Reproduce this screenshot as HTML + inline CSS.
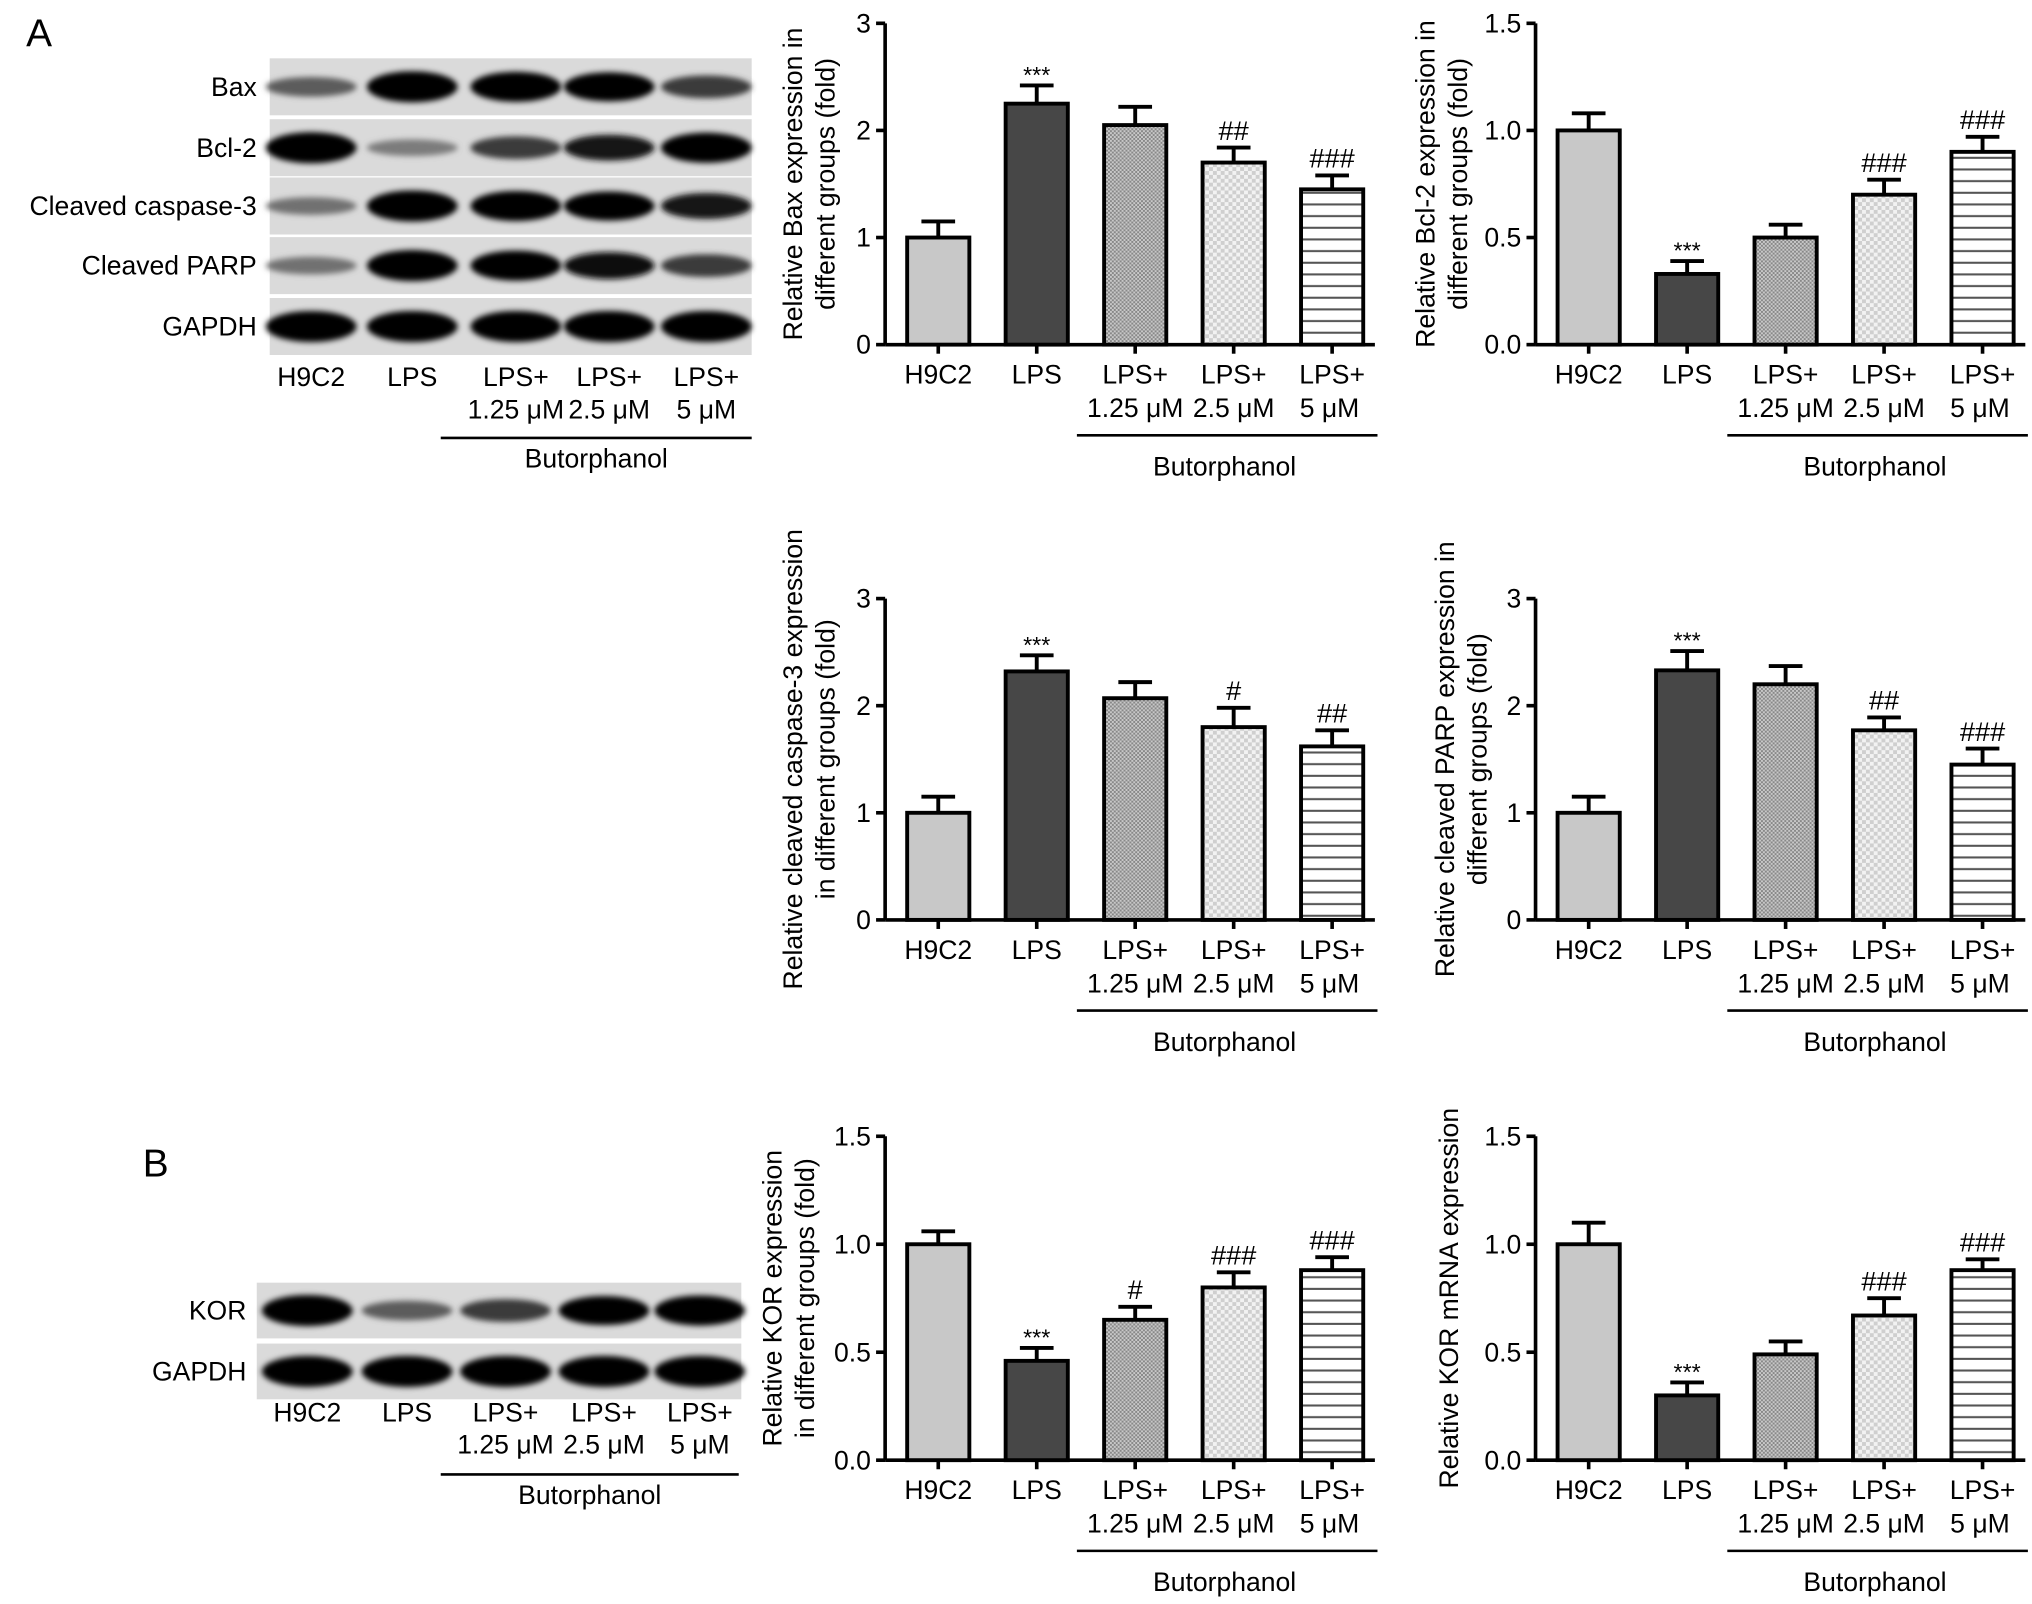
<!DOCTYPE html>
<html><head><meta charset="utf-8"><style>
html,body{margin:0;padding:0;background:#fff;}
svg{display:block;font-family:"Liberation Sans",Arial,sans-serif;}
</style></head><body>
<svg id="fig" width="2032" height="1604" viewBox="0 0 1568 1238" xmlns="http://www.w3.org/2000/svg">
<defs>
<pattern id="pDense" width="3" height="3" patternUnits="userSpaceOnUse"><rect width="3" height="3" fill="#c8c8c8"/><rect width="1.5" height="1.5" fill="#888"/><rect x="1.5" y="1.5" width="1.5" height="1.5" fill="#888"/></pattern>
<pattern id="pLight" width="6" height="6" patternUnits="userSpaceOnUse"><rect width="6" height="6" fill="#f2f2f2"/><rect width="3" height="3" fill="#cfcfcf"/><rect x="3" y="3" width="3" height="3" fill="#cfcfcf"/></pattern>
<pattern id="pLines" width="6" height="9" patternUnits="userSpaceOnUse"><rect width="6" height="9" fill="#fff"/><rect y="4" width="6" height="1.6" fill="#555"/></pattern>
<filter id="blur" x="-20%" y="-50%" width="140%" height="200%"><feGaussianBlur stdDeviation="2.2"/></filter>
</defs>
<text x="20" y="36" font-size="30">A</text>
<text x="110" y="908" font-size="30">B</text>
</svg>
<script>
const NS="http://www.w3.org/2000/svg";
const svg=document.getElementById('fig');
function mk(tag,attrs,parent){const e=document.createElementNS(NS,tag);for(const k in attrs)e.setAttribute(k,attrs[k]);(parent||svg).appendChild(e);return e;}

const categories=["H9C2","LPS","LPS+|1.25 μM","LPS+|2.5 μM","LPS+|5 μM"];
const baxValues=[1.0,2.25,2.05,1.7,1.45];
const baxErr=[0.15,0.17,0.17,0.14,0.13];
const baxSig=["","***","","##","###"];
const bcl2Values=[1.0,0.33,0.5,0.7,0.9];
const bcl2Err=[0.08,0.06,0.06,0.07,0.07];
const bcl2Sig=["","***","","###","###"];
const casp3Values=[1.0,2.32,2.07,1.8,1.62];
const casp3Err=[0.15,0.15,0.15,0.18,0.15];
const casp3Sig=["","***","","#","##"];
const parpValues=[1.0,2.33,2.2,1.77,1.45];
const parpErr=[0.15,0.18,0.17,0.12,0.15];
const parpSig=["","***","","##","###"];
const korValues=[1.0,0.46,0.65,0.8,0.88];
const korErr=[0.06,0.06,0.06,0.07,0.06];
const korSig=["","***","#","###","###"];
const korMrnaValues=[1.0,0.3,0.49,0.67,0.88];
const korMrnaErr=[0.1,0.06,0.06,0.08,0.05];
const korMrnaSig=["","***","","###","###"];
const ticks3=["0","1","2","3"];
const ticks15=["0.0","0.5","1.0","1.5"];

const fills=["#c8c8c8","#474747","url(#pDense)","url(#pLight)","url(#pLines)"];
const FS=20.5;

function chart(name,ax,y0,yTop,ymax,ticks,vals,errs,sigs,titleLines,titleX){
  const g=mk('g',{});
  
  
  const ys=v=>y0-(v/ymax)*(y0-yTop);
  const xs=i=>ax+41+i*76;
  const yl=mk('line',{x1:ax,y1:yTop,x2:ax,y2:y0,stroke:'#000','stroke-width':2.8},g);
  
  
  const xl=mk('line',{x1:ax,y1:y0,x2:ax+378,y2:y0,stroke:'#000','stroke-width':2.8},g);
  
  
  ticks.forEach(t=>{
    const v=parseFloat(t),y=ys(v);
    mk('line',{x1:ax-7,y1:y,x2:ax,y2:y,stroke:'#000','stroke-width':2.8},g);
    const tx=mk('text',{x:ax-11,y:y+7,'font-size':FS,'text-anchor':'end'},g);
    tx.textContent=t;
    
    
  });
  vals.forEach((v,i)=>{
    const cx=xs(i),top=ys(v),et=ys(v+errs[i]);
    mk('line',{x1:cx,y1:et,x2:cx,y2:top,stroke:'#000','stroke-width':3},g);
    mk('line',{x1:cx-13,y1:et,x2:cx+13,y2:et,stroke:'#000','stroke-width':3},g);
    const b=mk('rect',{x:cx-24,y:top,width:48,height:y0-top,fill:fills[i],stroke:'#000','stroke-width':3},g);
    
    
    if(sigs[i]){
      const s=mk('text',{x:cx,y:et-(sigs[i][0]=='*'?2:6),'font-size':sigs[i][0]=='*'?18:21,'text-anchor':'middle'},g);
      s.textContent=sigs[i];
      
      
    }
    mk('line',{x1:cx,y1:y0,x2:cx,y2:y0+7,stroke:'#000','stroke-width':2.8},g);
    const parts=categories[i].split('|');
    parts.forEach((p,k)=>{
      const t=mk('text',{x:cx+(k==1&&i==4?-2:0),y:y0+30+k*26,'font-size':FS,'text-anchor':'middle'},g);
      t.textContent=p;
      
      
    });
  });
  const bl=mk('line',{x1:ax+148,y1:y0+70,x2:ax+380,y2:y0+70,stroke:'#000','stroke-width':2},g);
  
  
  const bt=mk('text',{x:ax+262,y:y0+101,'font-size':FS,'text-anchor':'middle'},g);
  bt.textContent='Butorphanol';
  
  
  const mid=(y0+yTop)/2;
  titleLines.forEach((l,k)=>{
    const tx=titleX+k*25;
    const t=mk('text',{x:tx,y:mid,'font-size':FS,'text-anchor':'middle',transform:`rotate(-90 ${tx} ${mid})`},g);
    t.textContent=l;
    
    
  });
}
chart('bax-chart',683,266,18,3,ticks3,baxValues,baxErr,baxSig,["Relative Bax expression in","different groups (fold)"],619);
chart('bcl2-chart',1185,266,18,1.5,ticks15,bcl2Values,bcl2Err,bcl2Sig,["Relative Bcl-2 expression in","different groups (fold)"],1107);
chart('caspase3-chart',683,710,462,3,ticks3,casp3Values,casp3Err,casp3Sig,["Relative cleaved caspase-3 expression","in different groups (fold)"],619);
chart('parp-chart',1185,710,462,3,ticks3,parpValues,parpErr,parpSig,["Relative cleaved PARP expression in","different groups (fold)"],1122);
chart('kor-protein-chart',683,1127,877,1.5,ticks15,korValues,korErr,korSig,["Relative KOR expression","in different groups (fold)"],603);
chart('kor-mrna-chart',1185,1127,877,1.5,ticks15,korMrnaValues,korMrnaErr,korMrnaSig,["Relative KOR mRNA expression"],1125);

const blotA=[["Bax",45,[0.45,1,0.95,0.9,0.6]],["Bcl-2",92,[1,0.3,0.6,0.75,0.95]],["Cleaved caspase-3",137,[0.35,1,0.95,0.9,0.75]],["Cleaved PARP",183,[0.35,1,0.95,0.8,0.6]],["GAPDH",230,[1,1,1,1,1]]];
const blotB=[["KOR",990,[1,0.45,0.6,0.9,0.95]],["GAPDH",1037,[1,1,1,1,1]]];
function blot(name,x0,x1,rows,rh,lanes,labelX){
  const g=mk('g',{});
  
  
  rows.forEach(r=>{
    const bg=mk('rect',{x:x0,y:r[1],width:x1-x0,height:rh,fill:'#dadada'},g);
    
    
    r[2].forEach((v,i)=>{
      const c=Math.max(0,Math.round(190-220*v));
      mk('ellipse',{cx:lanes[i],cy:r[1]+rh/2,rx:35,ry:4+8*v,fill:`rgb(${c},${c},${c})`,filter:'url(#blur)'},g);
    });
    const t=mk('text',{x:labelX,y:r[1]+rh/2+7,'font-size':FS,'text-anchor':'end'},g);
    t.textContent=r[0];
    
    
  });
}
const lanesA=[240,318,398,470,545];
const lanesB=[237,314,390,466,540];
blot('western-blot-a',208,580,blotA,44,lanesA,198);
blot('western-blot-b',198,572,blotB,43,lanesB,190);
function laneLabels(lanes,y,lineY,x0,x1){
  lanes.forEach((cx,i)=>{
    categories[i].split('|').forEach((p,k)=>{
      const t=mk('text',{x:cx,y:y+k*25,'font-size':FS,'text-anchor':'middle'});
      t.textContent=p;
      
      
    });
  });
  const l=mk('line',{x1:x0,y1:lineY,x2:x1,y2:lineY,stroke:'#000','stroke-width':2});
  
  
  const t=mk('text',{x:(x0+x1)/2,y:lineY+23,'font-size':FS,'text-anchor':'middle'});
  t.textContent='Butorphanol';
  
  
}
laneLabels(lanesA,298,338,340,580);
laneLabels(lanesB,1097,1138,340,570);
</script>
</body></html>
